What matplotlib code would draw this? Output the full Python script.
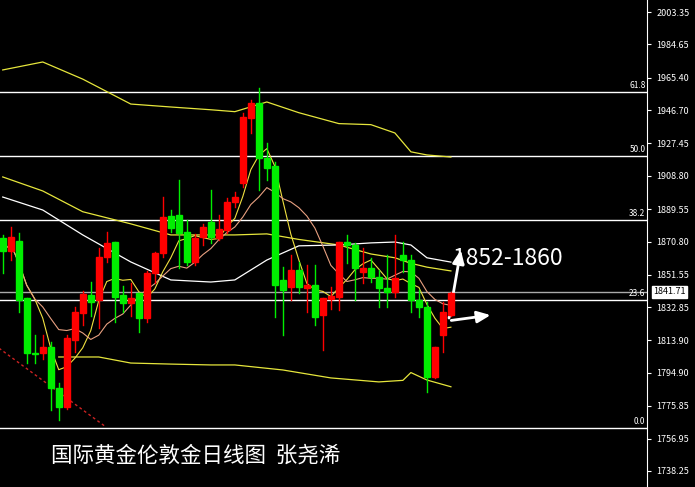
from matplotlib import pyplot as plt
from matplotlib.patches import Rectangle
import numpy as np
import pandas as pd

plt.rcParams['font.family'] = ['Noto Sans CJK SC', 'DejaVu Sans']

# daily candles: open, high, low, close
opens  = [1872.8, 1865.3, 1871.1, 1838.2, 1806.4, 1806.4, 1809.9, 1786.2, 1775.2, 1813.9,
          1829.5, 1839.9, 1837.0, 1861.9, 1870.5, 1839.9, 1835.3, 1841.1, 1826.6, 1852.6,
          1864.2, 1885.5, 1886.1, 1876.3, 1859.0, 1873.4, 1882.1, 1872.8, 1877.5, 1893.6,
          1904.6, 1942.1, 1950.8, 1919.0, 1914.4, 1848.6, 1844.5, 1854.3, 1843.9, 1845.7,
          1828.4, 1837.6, 1838.8, 1870.5, 1868.8, 1853.2, 1855.5, 1850.3, 1843.9, 1841.6,
          1863.0, 1860.1, 1837.0, 1833.0, 1792.5, 1816.8, 1828.4]
highs  = [1874.6, 1879.2, 1875.7, 1838.2, 1816.8, 1816.8, 1812.8, 1789.1, 1817.0, 1833.0,
          1842.5, 1847.6, 1866.9, 1876.3, 1870.5, 1845.0, 1846.6, 1841.1, 1853.8, 1864.7,
          1896.7, 1889.0, 1906.3, 1883.2, 1875.0, 1881.0, 1900.6, 1886.1, 1896.0, 1899.6,
          1944.8, 1952.5, 1959.5, 1927.7, 1916.7, 1856.3, 1863.0, 1859.2, 1857.0, 1857.0,
          1838.2, 1844.7, 1870.5, 1874.6, 1870.0, 1866.9, 1861.1, 1854.3, 1863.0, 1874.6,
          1870.7, 1863.0, 1842.8, 1836.0, 1810.0, 1836.0, 1841.7]
lows   = [1852.6, 1860.1, 1830.1, 1800.6, 1800.6, 1803.0, 1773.5, 1767.7, 1774.0, 1807.2,
          1822.6, 1828.0, 1820.7, 1859.0, 1824.3, 1830.0, 1828.0, 1818.7, 1824.5, 1846.6,
          1862.0, 1876.5, 1855.3, 1857.0, 1857.0, 1868.8, 1870.0, 1871.6, 1876.0, 1890.9,
          1902.4, 1933.3, 1900.6, 1906.3, 1827.2, 1816.8, 1837.0, 1841.0, 1830.0, 1822.6,
          1808.1, 1832.0, 1831.0, 1858.2, 1837.0, 1846.6, 1847.6, 1833.0, 1833.2, 1838.8,
          1853.0, 1830.0, 1827.2, 1784.0, 1792.0, 1807.2, 1828.0]
closes = [1865.3, 1873.4, 1837.0, 1806.4, 1806.0, 1809.9, 1786.2, 1775.2, 1815.1, 1830.1,
          1840.5, 1835.9, 1861.9, 1870.0, 1839.0, 1835.3, 1838.2, 1826.6, 1852.6, 1864.2,
          1885.0, 1878.6, 1875.7, 1859.0, 1872.8, 1879.2, 1873.4, 1878.0, 1893.6, 1896.5,
          1942.7, 1950.8, 1919.0, 1913.3, 1845.7, 1842.8, 1854.3, 1844.5, 1845.7, 1827.2,
          1838.2, 1839.3, 1870.5, 1868.8, 1855.5, 1855.5, 1850.3, 1843.9, 1841.6, 1849.7,
          1860.1, 1837.0, 1833.0, 1792.5, 1809.9, 1830.1, 1841.1]

band_idx   = [0, 5, 10, 16, 21, 26, 29, 33, 37, 42, 46, 49, 51, 53, 56]
band_upper = [1969.9, 1974.5, 1964.6, 1950.2, 1948.5, 1946.9, 1945.8, 1951.4, 1945.2, 1938.9, 1938.3, 1933.5, 1922.6, 1920.8, 1919.6]
band_mid   = [1908.1, 1900.0, 1888.0, 1881.0, 1874.6, 1874.6, 1874.6, 1875.2, 1872.0, 1868.8, 1863.6, 1861.4, 1858.2, 1856.0, 1853.8]
band_white = [1896.5, 1889.0, 1874.6, 1859.0, 1848.6, 1847.4, 1848.6, 1860.1, 1868.3, 1868.8, 1870.0, 1870.5, 1868.8, 1861.4, 1858.9]
lower_idx  = [7, 12, 16, 21, 26, 29, 35, 41, 47, 50, 51, 53, 56]
band_lower = [1804.1, 1804.1, 1800.6, 1800.0, 1799.5, 1799.5, 1796.6, 1792.0, 1789.7, 1790.6, 1795.1, 1790.8, 1786.9]

fib_low, fib_high = 1763.1, 2077.1
fib_levels = [0.0, 23.6, 38.2, 50.0, 61.8]
last_price = 1841.71
y_ticks = [2003.35, 1984.65, 1965.40, 1946.70, 1927.45, 1908.80, 1889.55, 1870.80,
           1851.55, 1832.85, 1813.90, 1794.90, 1775.85, 1756.95, 1738.25]
title = '国际黄金伦敦金日线图  张尧浠'
target = '1852-1860'

fig = plt.figure(figsize=(6.95, 4.87), dpi=100, facecolor='black')
ax = fig.add_axes([0, 0, 647/695, 1])
ax.set_facecolor('black')
ax.set_xlim(-0.34, 80.5)
ax.set_ylim(1729.0, 2010.3)

for s in ['top', 'left', 'bottom']:
    ax.spines[s].set_visible(False)
ax.spines['right'].set_color('white')
ax.yaxis.tick_right()
ax.set_yticks(y_ticks)
ax.set_yticklabels([f'{v:.2f}' for v in y_ticks])
ax.tick_params(axis='y', colors='white', labelsize=6.5, length=3, pad=4)
ax.set_xticks([])

# fibonacci levels
for lv in fib_levels:
    p = fib_low + (fib_high - fib_low) * lv / 100
    ax.axhline(p, color='white', lw=1)
    ax.text(80.3, p + 1.2, f'{lv:.1f}', color='white', fontsize=6, ha='right', va='bottom')
ax.axhline(last_price, color='#aaaaaa', lw=1)
ax.text(81.3, last_price, f'{last_price:.2f}', color='black', fontsize=6.5, va='center',
        bbox=dict(facecolor='white', edgecolor='white', pad=1), clip_on=False)

# trend line
ax.plot([-1, 12.8], [1811, 1764], color='#cc2222', lw=1, ls=(0, (2, 2)))

# bands
ax.plot(band_idx, band_upper, color='#e6e63c', lw=0.9)
ax.plot(band_idx, band_mid, color='#e6e63c', lw=0.9)
ax.plot(band_idx, band_white, color='white', lw=0.9)
ax.plot(lower_idx, band_lower, color='#e6e63c', lw=0.9)

# moving averages
c = pd.Series(closes)
ax.plot(c.rolling(5, min_periods=1).mean(), color='#f0e040', lw=0.8)
ax.plot(c.rolling(10, min_periods=1).mean(), color='#e8a080', lw=0.8)

# candles
w = 0.7
for i, (o, h, l, cl) in enumerate(zip(opens, highs, lows, closes)):
    col = '#ff0000' if cl >= o else '#00ee00'
    ax.plot([i, i], [l, h], color=col, lw=1, zorder=3)
    ax.add_patch(Rectangle((i - w / 2, min(o, cl)), w, max(abs(cl - o), 0.6),
                           facecolor=col, edgecolor=col, zorder=4))

# arrows and annotations
ax.annotate('', xy=(57.3, 1867.5), xytext=(55.7, 1825),
            arrowprops=dict(arrowstyle='-|>,head_width=0.35,head_length=0.8', color='white', lw=2))
ax.annotate('', xy=(61.3, 1828.5), xytext=(55.7, 1825),
            arrowprops=dict(arrowstyle='-|>,head_width=0.35,head_length=0.8', color='white', lw=2))
ax.text(56.3, 1861, target, color='white', fontsize=16.5, fontweight='medium', ha='left', va='center')
ax.text(6, 1747, title, color='white', fontsize=15.5, ha='left', va='center')

fig.savefig('out.png', dpi=100, facecolor='black')
